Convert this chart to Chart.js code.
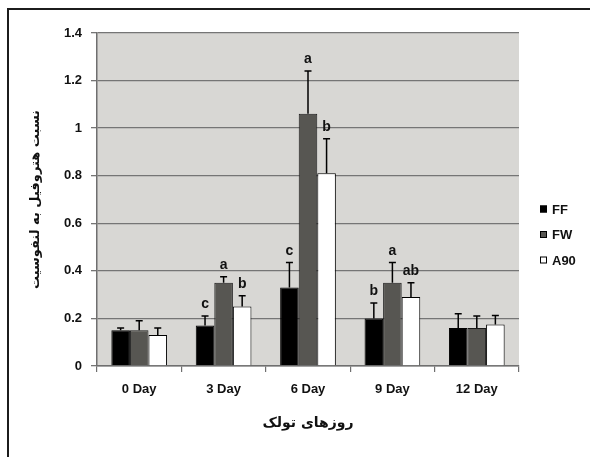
<!DOCTYPE html>
<html>
<head>
<meta charset="utf-8">
<script src="https://cdn.jsdelivr.net/npm/chart.js@4"></script>
<style>
  html, body { margin: 0; padding: 0; background: #fff; }
  #wrap { position: relative; width: 590px; height: 457px; overflow: hidden; }
  #frame {
    position: absolute; left: 7px; top: 8px; right: -10px; bottom: -10px;
    border-left: 2px solid #1c1c1c; border-top: 2px solid #1c1c1c;
  }
  canvas { position: absolute; left: 0; top: 0; }
</style>
</head>
<body>
<div id="wrap">
  <div id="frame"></div>
  <canvas id="chart" width="590" height="457"></canvas>
</div>
<script>
// ---------------- Data ----------------
const days = ["0 Day", "3 Day", "6 Day", "9 Day", "12 Day"];

const ffValues = [0.15, 0.17, 0.33, 0.20, 0.16];
const fwValues = [0.15, 0.35, 1.06, 0.35, 0.16];
const a90Values = [0.13, 0.25, 0.81, 0.29, 0.175];

// upper error bar lengths
const ffErrors = [0.01, 0.04, 0.105, 0.065, 0.06];
const fwErrors = [0.04, 0.025, 0.18, 0.085, 0.05];
const a90Errors = [0.03, 0.045, 0.145, 0.06, 0.037];

// significance letters
const ffLetters = ["", "c", "c", "b", ""];
const fwLetters = ["", "a", "a", "a", ""];
const a90Letters = ["", "b", "b", "ab", ""];

const yTickLabels = ["0", "0.2", "0.4", "0.6", "0.8", "1", "1.2", "1.4"];

const yTitle = "نسبت هتروفیل به لنفوسیت";
const xTitle = "روزهای تولک";

// ---------------- Plugins ----------------
const plotBackground = {
  id: "plotBackground",
  beforeDraw(chart) {
    const { ctx, chartArea: a } = chart;
    ctx.save();
    ctx.fillStyle = "#d8d7d4";
    ctx.fillRect(a.left, a.top, a.right - a.left, a.bottom - a.top);
    ctx.restore();
  }
};

const errorBars = {
  id: "errorBars",
  afterDatasetsDraw(chart) {
    const { ctx } = chart;
    const y = chart.scales.y;
    ctx.save();
    chart.data.datasets.forEach((ds, i) => {
      const meta = chart.getDatasetMeta(i);
      meta.data.forEach((bar, j) => {
        const top = y.getPixelForValue(ds.data[j] + ds.errors[j]);
        ctx.strokeStyle = "#000";
        ctx.lineWidth = 1.5;
        ctx.beginPath();
        ctx.moveTo(bar.x, bar.y);
        ctx.lineTo(bar.x, top);
        ctx.moveTo(bar.x - 3.5, top);
        ctx.lineTo(bar.x + 3.5, top);
        ctx.stroke();

        if (ds.letters[j]) {
          ctx.fillStyle = "#111";
          ctx.font = "bold 14px 'Liberation Sans', Arial, sans-serif";
          ctx.textAlign = "center";
          ctx.textBaseline = "alphabetic";
          ctx.fillText(ds.letters[j], bar.x, top - 8);
        }
      });
    });
    ctx.restore();
  }
};

const sideLegend = {
  id: "sideLegend",
  afterDraw(chart) {
    const { ctx } = chart;
    ctx.save();
    ctx.font = "bold 13px 'Liberation Sans', Arial, sans-serif";
    ctx.textBaseline = "middle";
    ctx.textAlign = "left";
    chart.data.datasets.forEach((ds, i) => {
      const cy = 209 + i * 25.5;
      ctx.fillStyle = ds.backgroundColor;
      ctx.fillRect(540, cy - 3.5, 7, 7);
      ctx.strokeStyle = "#000";
      ctx.lineWidth = 1;
      ctx.strokeRect(540.5, cy - 3, 6, 6);
      ctx.fillStyle = "#111";
      ctx.fillText(ds.label, 552, cy + 1);
    });
    ctx.restore();
  }
};

// ---------------- Chart ----------------
new Chart(document.getElementById("chart"), {
  type: "bar",
  data: {
    labels: days,
    datasets: [
      { label: "FF", data: ffValues, errors: ffErrors, letters: ffLetters,
        backgroundColor: "#000000", borderColor: "#000000", borderWidth: 1 },
      { label: "FW", data: fwValues, errors: fwErrors, letters: fwLetters,
        backgroundColor: "#575652", borderColor: "#1a1a1a", borderWidth: 1 },
      { label: "A90", data: a90Values, errors: a90Errors, letters: a90Letters,
        backgroundColor: "#ffffff", borderColor: "#000000", borderWidth: 1 }
    ]
  },
  options: {
    responsive: false,
    animation: false,
    layout: { padding: { left: 0, top: 33, right: 71, bottom: 0 } },
    datasets: { bar: { categoryPercentage: 0.66, barPercentage: 1.0 } },
    plugins: {
      legend: { display: false },
      tooltip: { enabled: false }
    },
    scales: {
      x: {
        afterFit(scale) { scale.height = 91; },
        grid: {
          offset: true,
          drawOnChartArea: false,
          tickLength: 6,
          color: "#6f6f6f",
          lineWidth: 1.2
        },
        border: { color: "#6f6f6f", width: 1.5 },
        ticks: {
          color: "#111",
          padding: 10,
          font: { family: "'Liberation Sans', Arial, sans-serif", size: 13, weight: "bold" }
        },
        title: {
          display: true,
          text: xTitle,
          color: "#111",
          padding: { top: 0, bottom: 25 },
          font: { family: "'DejaVu Sans', sans-serif", size: 14, weight: "bold" }
        }
      },
      y: {
        min: 0,
        max: 1.4,
        afterFit(scale) { scale.width = 97; },
        grid: {
          color: "#757575",
          lineWidth: 1.3,
          tickLength: 6
        },
        border: { color: "#6f6f6f", width: 1.5 },
        ticks: {
          stepSize: 0.2,
          color: "#111",
          padding: 9,
          callback: (value, index) => yTickLabels[index],
          font: { family: "'Liberation Sans', Arial, sans-serif", size: 13, weight: "bold" }
        },
        title: {
          display: true,
          text: yTitle,
          color: "#111",
          padding: { top: 28, bottom: 0 },
          font: { family: "'DejaVu Sans', sans-serif", size: 13, weight: "bold" }
        }
      }
    }
  },
  plugins: [plotBackground, errorBars, sideLegend]
});
</script>
</body>
</html>
